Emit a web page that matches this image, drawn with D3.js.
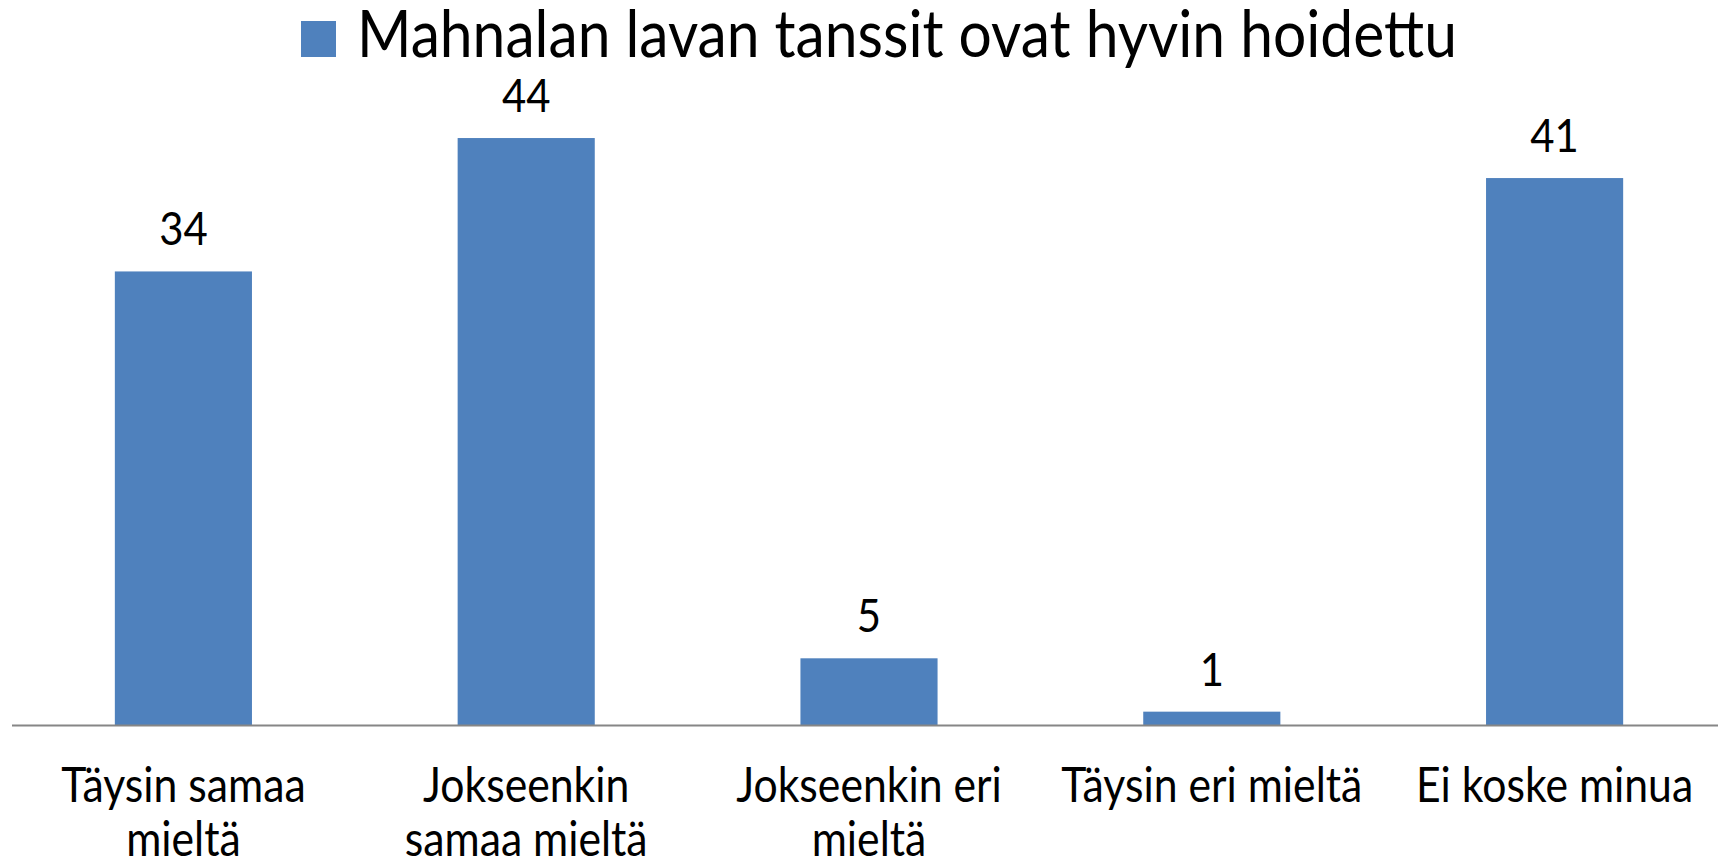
<!DOCTYPE html>
<html>
<head>
<meta charset="utf-8">
<script src="https://cdn.jsdelivr.net/npm/d3@7"></script>
<style>
    body { margin: 0; background: #fff; }
    text { font-family: Lato, "Open Sans", sans-serif; fill: #000; }
</style>
</head>
<body>
<div id="chart"></div>
<script>
// Chart data
const categories = ['Täysin samaa mieltä', 'Jokseenkin samaa mieltä', 'Jokseenkin eri mieltä', 'Täysin eri mieltä', 'Ei koske minua'];
const values = [34, 44, 5, 1, 41];
const seriesName = 'Mahnalan lavan tanssit ovat hyvin hoidettu';

const width = 1718;
const height = 866;
const barColor = '#4F81BD';
const squeeze = 0.89; // the original font is a narrow one

const svg = d3.select('#chart')
    .append('svg')
    .attr('width', width)
    .attr('height', height);

const x = d3.scaleBand()
    .domain(categories)
    .range([12, 1726])
    .paddingInner(0.6)
    .paddingOuter(0.3);

const y = d3.scaleLinear()
    .domain([0, 50])
    .range([725, 58]);

// Draws text squeezed horizontally around its anchor
function narrowText(parent, tx, ty, str, size, anchor) {
    return parent.append('text')
        .attr('transform', `translate(${tx},${ty}) scale(${squeeze},1)`)
        .attr('text-anchor', anchor || 'middle')
        .attr('font-size', size)
        .text(str);
}

// Bars
svg.selectAll('rect.bar')
    .data(values)
    .enter()
    .append('rect')
    .attr('class', 'bar')
    .attr('x', (d, i) => x(categories[i]))
    .attr('y', d => y(d))
    .attr('width', x.bandwidth())
    .attr('height', d => y(0) - y(d))
    .attr('fill', barColor);

// Axis line
svg.append('line')
    .attr('x1', 12)
    .attr('x2', width)
    .attr('y1', y(0) + 0.5)
    .attr('y2', y(0) + 0.5)
    .attr('stroke', '#868686')
    .attr('stroke-width', 2);

// Value labels
values.forEach((v, i) => {
    narrowText(svg, x(categories[i]) + x.bandwidth() / 2, y(v) - 26, v, 47);
});

// Category labels, wrapped like the original
const maxLineWidth = x.step() * 0.93;
categories.forEach(cat => {
    const cx = x(cat) + x.bandwidth() / 2;
    const words = cat.split(' ');
    const lines = [];
    let line = [];
    words.forEach(w => {
        const test = line.concat(w).join(' ');
        const t = narrowText(svg, 0, 0, test, 48);
        const w2 = t.node().getComputedTextLength() * squeeze;
        t.remove();
        if (w2 > maxLineWidth && line.length) {
            lines.push(line.join(' '));
            line = [w];
        } else {
            line.push(w);
        }
    });
    lines.push(line.join(' '));
    lines.forEach((l, k) => {
        narrowText(svg, cx, 802 + k * 54, l, 48);
    });
});

// Legend
const legend = svg.append('g');
legend.append('rect')
    .attr('x', 301)
    .attr('y', 21)
    .attr('width', 35)
    .attr('height', 36)
    .attr('fill', barColor);
narrowText(legend, 357, 57, seriesName, 66, 'start');
</script>
</body>
</html>
